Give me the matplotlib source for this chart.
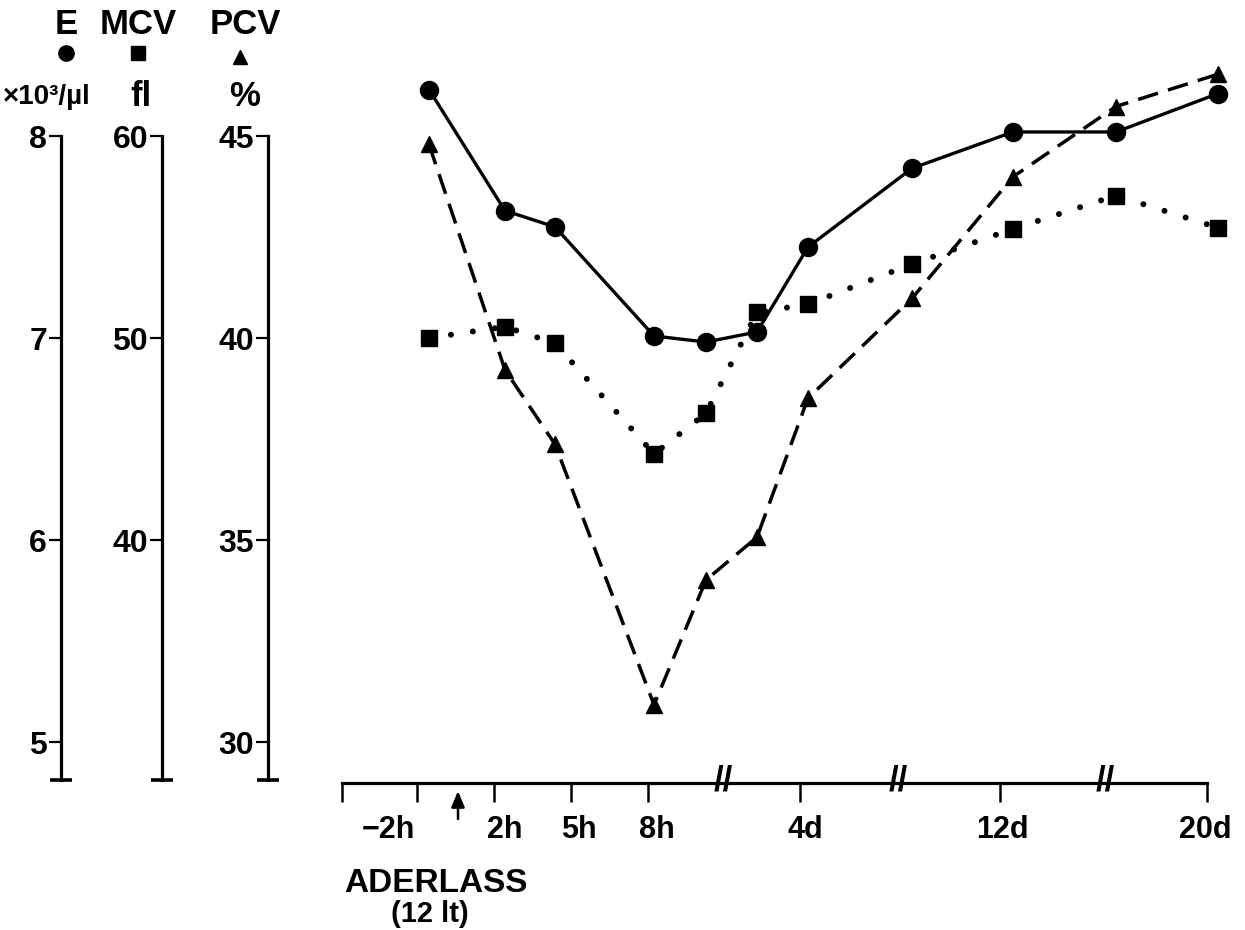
import matplotlib
matplotlib.use("Agg")
import matplotlib.pyplot as plt
from matplotlib.lines import Line2D
from matplotlib.transforms import ScaledTranslation

plt.rcParams['font.family'] = ['Liberation Sans', 'DejaVu Sans']
plt.rcParams['font.weight'] = 'bold'

# ---------------- data ----------------
x_pos = [8.7, 16.3, 21.3, 31.2, 36.4, 41.5, 46.6, 57.0, 67.1, 77.4, 87.6]
erythro = [8.23, 7.63, 7.55, 7.01, 6.98, 7.03, 7.45, 7.84, 8.02, 8.02, 8.21]   # E x10^3/ul
mcv = [50.0, 50.56, 49.74, 44.26, 46.27, 51.27, 51.67, 53.66, 55.40, 57.05, 55.46]  # fl
pcv = [44.79, 39.21, 37.37, 30.92, 34.01, 35.07, 38.51, 40.98, 43.99, 45.73, 46.53]  # %

x_ticks = [0, 7.5, 15.2, 22.9, 30.6, 45.8, 65.8, 86.5]
x_ticklabels = ['', '\u22122h', '2h', '5h', '8h', '4d', '12d', '20d']
x_breaks = [38.1, 55.6, 76.3]
aderlass_x = 11.6

e_ticks = [5, 6, 7, 8]
mcv_ticks = [40, 50, 60]
pcv_ticks = [30, 35, 40, 45]

# ---------------- figure ----------------
W, H = 1245, 930
fig = plt.figure(figsize=(W / 100, H / 100), dpi=100)

def fx(px):
    return px / W

def fy(py):
    return 1 - py / H

ax_left_px, ax_right_px, ax_top_px, ax_bot_px = 342, 1240, 60, 783
ax = fig.add_axes([fx(ax_left_px), fy(ax_bot_px),
                   (ax_right_px - ax_left_px) / W, (ax_bot_px - ax_top_px) / H])
ax.set_xlim(0, (ax_right_px - ax_left_px) / 10)

ax_m = ax.twinx()
ax_p = ax.twinx()

px_top_tick = 136
step = 202.0
def lims(top_val, unit_per_step):
    lo = top_val - (ax_bot_px - px_top_tick) / step * unit_per_step
    hi = top_val + (px_top_tick - ax_top_px) / step * unit_per_step
    return lo, hi

ax.set_ylim(*lims(8, 1))
ax_m.set_ylim(*lims(60, 10))
ax_p.set_ylim(*lims(45, 5))

axis_bottom_px = 780
def bottom_val(top_val, unit_per_step):
    return top_val - (axis_bottom_px - px_top_tick) / step * unit_per_step

spine_lw = 2.3
for a, xpx, top, ups, ticks in [(ax, 61, 8, 1, e_ticks),
                                (ax_m, 162, 60, 10, mcv_ticks),
                                (ax_p, 268, 45, 5, pcv_ticks)]:
    frac = (xpx - ax_left_px) / (ax_right_px - ax_left_px)
    for s in ['top', 'right']:
        a.spines[s].set_visible(False)
    a.spines['left'].set_visible(True)
    a.spines['left'].set_position(('axes', frac))
    a.spines['left'].set_linewidth(spine_lw)
    bval = bottom_val(top, ups)
    a.spines['left'].set_bounds(bval, top)
    a.yaxis.set_ticks_position('left')
    a.yaxis.set_label_position('left')
    a.set_yticks(ticks)
    a.set_yticklabels([str(t) for t in ticks])
    a.tick_params(axis='y', direction='out', length=9, width=1.6, pad=1,
                  labelsize=23)
    for lab in a.get_yticklabels():
        lab.set_fontweight('bold')
    a.plot([frac], [bval], marker='_', ms=16, mew=2.6, color='black',
           transform=a.get_yaxis_transform(), clip_on=False)

for a in [ax_m, ax_p]:
    a.spines['bottom'].set_visible(False)
    a.tick_params(axis='x', bottom=False, labelbottom=False)

# x axis
ax.spines['bottom'].set_linewidth(spine_lw)
ax.spines['bottom'].set_bounds(x_ticks[0], x_ticks[-1])
ax.set_xticks(x_ticks)
ax.set_xticklabels(x_ticklabels)
ax.tick_params(axis='x', direction='out', length=14, width=1.8, pad=9,
               labelsize=22)
label_shift_px = [0, -29, 11, 8, 9, 5, 2, -2]
for lab, dx in zip(ax.get_xticklabels(), label_shift_px):
    lab.set_fontweight('bold')
    lab.set_transform(lab.get_transform() + ScaledTranslation(dx / 100, 0, fig.dpi_scale_trans))

# break marks
for xb in x_breaks:
    ax.text(xb, 0.003, '//', transform=ax.get_xaxis_transform(), ha='center',
            va='center', fontsize=25, fontweight='bold', clip_on=False)

# Aderlass arrow
axh = ax_bot_px - ax_top_px
ax.annotate('', xy=(aderlass_x, -(791 - ax_bot_px) / axh),
            xytext=(aderlass_x, -(819 - ax_bot_px) / axh),
            xycoords=ax.get_xaxis_transform(), textcoords=ax.get_xaxis_transform(),
            arrowprops=dict(arrowstyle='-|>,head_length=0.6,head_width=0.25', lw=1.8,
                            color='black', mutation_scale=16, shrinkA=0, shrinkB=0))

fig.text(fx(436), fy(883), 'ADERLASS', ha='center', va='center', fontsize=24,
         fontweight='bold')
fig.text(fx(430), fy(914), '(12 lt)', ha='center', va='center', fontsize=21,
         fontweight='bold')

# series
ax.plot(x_pos, erythro, color='black', lw=2.4, ls='-', marker='o', ms=13,
        clip_on=False, zorder=3)
ax_m.plot(x_pos, mcv, color='black', lw=4.3, ls=(0, (0.01, 3.7)),
          dash_capstyle='round', marker='s', ms=12, clip_on=False, zorder=3)
ax_p.plot(x_pos, pcv, color='black', lw=2.5, ls=(0, (6, 3)),
          marker='^', ms=11, clip_on=False, zorder=3)

# header texts
fig.text(fx(66), fy(24), 'E', ha='center', va='center', fontsize=25, fontweight='bold')
fig.text(fx(138), fy(24), 'MCV', ha='center', va='center', fontsize=25, fontweight='bold')
fig.text(fx(245), fy(24), 'PCV', ha='center', va='center', fontsize=25, fontweight='bold')
for xp, yp, mk, ms in [(66, 53, 'o', 11), (138, 53, 's', 10.5), (240, 57, '^', 9.5)]:
    fig.add_artist(Line2D([fx(xp)], [fy(yp)], marker=mk, ms=ms, color='black',
                          ls='none', transform=fig.transFigure))
fig.text(fx(47), fy(97), '\u00d710\u00b3/\u00b5l', ha='center', va='center',
         fontsize=20, fontweight='bold')
fig.text(fx(141), fy(97), 'fl', ha='center', va='center', fontsize=25, fontweight='bold')
fig.text(fx(245), fy(97), '%', ha='center', va='center', fontsize=25, fontweight='bold')

fig.savefig('out.png', dpi=100)
